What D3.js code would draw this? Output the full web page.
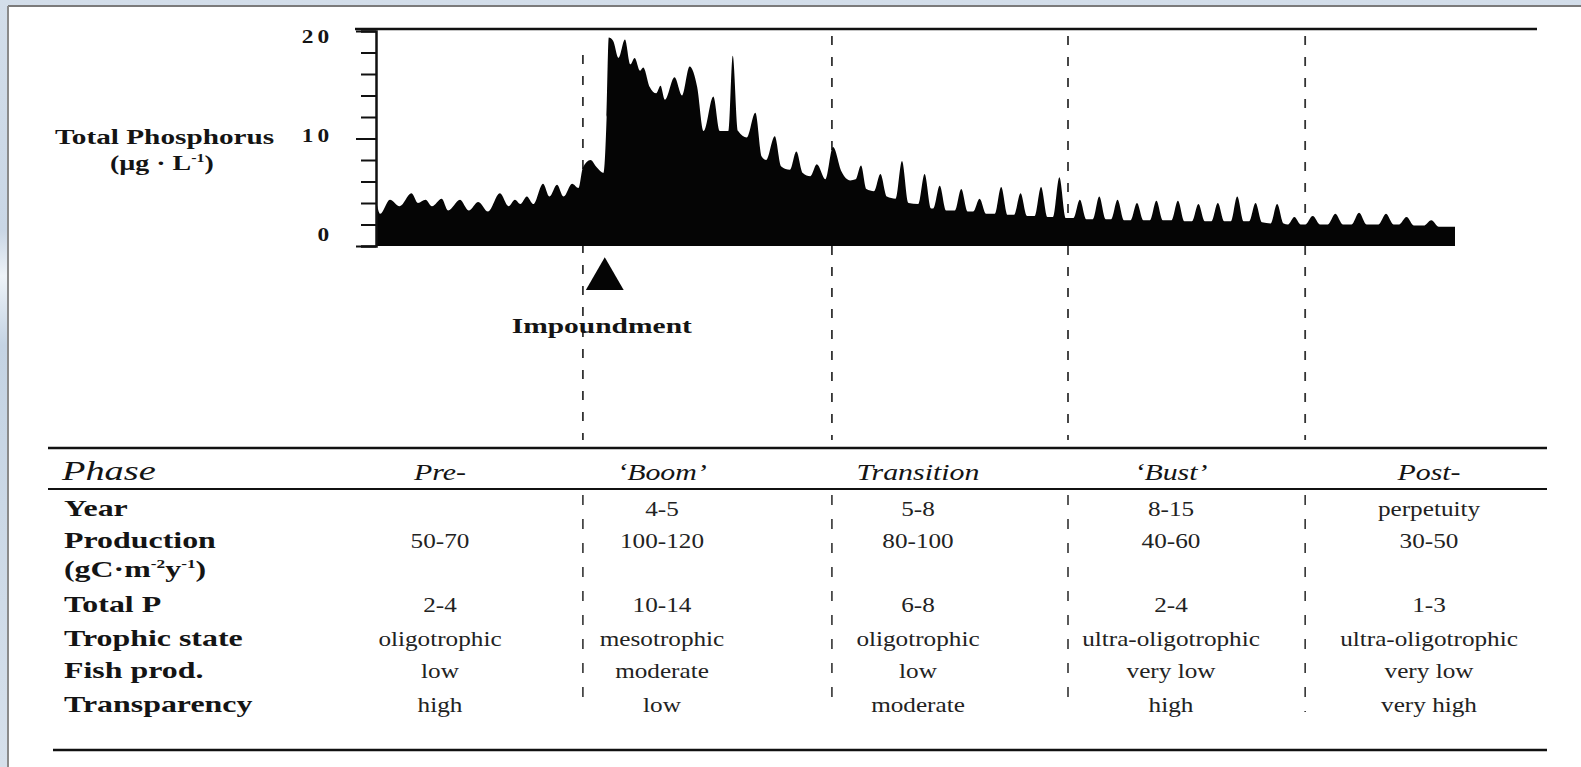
<!DOCTYPE html>
<html>
<head>
<meta charset="utf-8">
<script src="https://cdn.jsdelivr.net/npm/d3@7"></script>
<style>
  html, body { margin: 0; padding: 0; overflow: hidden; background: #fff; }
  svg { display: block; }
  text { font-family: "Liberation Serif", "Times New Roman", serif; fill: #141414; }
</style>
</head>
<body>
<svg id="chart"></svg>
<script>
// total phosphorus trace (time index 0-100, µg/L)
const tpTime = [0, 0.3, 1.2, 2.1, 3.2, 3.8, 4.5, 5.1, 6.0, 6.6, 7.7, 8.5, 9.4, 10.3, 11.4, 12.2, 12.8, 13.3, 13.9, 14.5,
  15.4, 16.0, 16.7, 17.3, 18.1, 18.7, 19.1, 19.8, 20.4, 21.0, 21.3, 21.5, 21.9, 22.4, 23.0, 23.5, 23.9, 24.4, 24.7, 25.3,
  25.9, 26.3, 26.7, 27.6, 28.3, 29.0, 29.7, 30.3, 31.2, 31.8, 32.6, 33.0, 33.5, 34.3, 35.1, 35.7, 36.1, 36.9, 37.5, 38.3,
  38.9, 39.5, 40.2, 40.8, 41.6, 42.3, 43.1, 43.9,
  44.4, 44.9, 45.4, 46.1, 46.7, 47.3, 48.1, 48.7, 49.3, 50.2, 50.8, 51.4, 51.6, 52.2, 52.8, 53.6, 54.2, 54.8,
  55.3, 55.9, 56.5, 57.3, 57.9, 58.5, 59.1, 59.7, 60.3, 61.0, 61.6, 62.2, 62.7, 63.3, 63.9, 64.6, 65.2, 65.8,
  66.4, 67.0, 67.6, 68.1, 68.7, 69.3, 69.9, 70.5, 71.1, 71.7, 72.3, 72.9, 73.7, 74.3, 74.9, 75.6, 76.2, 76.8,
  77.4, 78.0, 78.6, 79.2, 79.8, 80.4, 80.9, 81.5, 82.1, 82.9, 83.5, 84.1, 84.5, 85.1, 85.7, 86.1, 86.8, 87.5,
  88.2, 88.9, 89.6, 90.4, 91.1, 91.8, 92.9, 93.6, 94.3, 94.8, 95.5, 96.2, 97.1, 97.8, 98.5, 100];
const tpValue = [3.8, 3.0, 4.3, 3.7, 4.9, 4.0, 4.3, 3.7, 4.4, 3.3, 4.3, 3.3, 4.1, 3.2, 4.9, 3.7, 4.3, 3.9, 4.6, 3.9,
  5.8, 4.6, 5.7, 4.6, 5.8, 5.4, 7.3, 8.0, 7.3, 6.8, 12.0, 19.4, 19.1, 17.5, 19.2, 16.9, 17.5, 16.3, 16.6, 14.8,
  14.2, 14.9, 13.6, 15.7, 14.0, 16.7, 14.8, 10.7, 13.9, 10.7, 10.7, 17.7, 10.7, 10.1, 12.4, 8.3, 8.0, 10.2, 7.4, 7.1,
  8.8, 6.8, 6.5, 7.6, 6.2, 9.2, 6.9, 6.1,
  6.2, 7.5, 5.3, 5.1, 6.7, 4.6, 4.4, 7.9, 4.0, 3.9, 6.7, 3.5, 3.5, 5.6, 3.3, 3.3, 5.3, 3.2,
  3.2, 4.4, 3.0, 3.0, 5.5, 2.9, 2.9, 4.9, 2.8, 2.8, 5.5, 2.7, 2.7, 6.4, 2.6, 2.6, 4.3, 2.5,
  2.5, 4.6, 2.5, 2.5, 4.3, 2.4, 2.4, 4.0, 2.4, 2.4, 4.2, 2.4, 2.4, 4.2, 2.3, 2.3, 3.9, 2.3,
  2.3, 4.0, 2.3, 2.3, 4.6, 2.3, 2.3, 4.0, 2.2, 2.1, 3.9, 2.1, 2.0, 2.7, 2.0, 2.0, 2.8, 2.0,
  2.0, 3.0, 2.0, 2.0, 3.1, 2.0, 2.0, 3.0, 2.0, 2.0, 2.7, 1.9, 1.9, 2.4, 1.8, 1.8];

const yTickValues = [0, 2, 4, 6, 8, 10, 12, 14, 16, 18, 20];
const yLabelValues = [0, 10, 20];
const phaseBounds = [19.1, 42.2, 64.1, 86.1];
const impoundmentAt = 21.5;

// table
const phaseNames = ["Pre-", "\u2018Boom\u2019", "Transition", "\u2018Bust\u2019", "Post-"];
const rowNames = ["Year", "Production", "(gC\u00b7m", "Total P", "Trophic state", "Fish prod.", "Transparency"];
const yearRow = ["", "4-5", "5-8", "8-15", "perpetuity"];
const productionRow = ["50-70", "100-120", "80-100", "40-60", "30-50"];
const unitRow = ["", "", "", "", ""];
const totalPRow = ["2-4", "10-14", "6-8", "2-4", "1-3"];
const trophicRow = ["oligotrophic", "mesotrophic", "oligotrophic", "ultra-oligotrophic", "ultra-oligotrophic"];
const fishRow = ["low", "moderate", "low", "very low", "very low"];
const transparencyRow = ["high", "low", "moderate", "high", "very high"];
const tableRows = [yearRow, productionRow, unitRow, totalPRow, trophicRow, fishRow, transparencyRow];

const W = 1581, H = 767;
const svg = d3.select("#chart").attr("width", W).attr("height", H);

// the scan is wider than a normal serif, so text is stretched sideways
function stretched(x, y, str, size, sx) {
    return svg.append("text")
        .attr("transform", `translate(${x},${y}) scale(${sx},1)`)
        .attr("font-size", size)
        .text(str);
}

// page frame (scan pasted on a blue slide)
const grad = svg.append("defs").append("linearGradient")
    .attr("id", "side").attr("x1", 0).attr("y1", 0).attr("x2", 0).attr("y2", 1);
grad.append("stop").attr("offset", 0).attr("stop-color", "#d3deea");
grad.append("stop").attr("offset", 0.3).attr("stop-color", "#c9d6e5");
grad.append("stop").attr("offset", 0.36).attr("stop-color", "#eef3f8");
grad.append("stop").attr("offset", 0.45).attr("stop-color", "#c4d3e3");
grad.append("stop").attr("offset", 1).attr("stop-color", "#d6e0eb");
svg.append("rect").attr("width", W).attr("height", H).attr("fill", "url(#side)");
svg.append("rect").attr("x", 9).attr("y", 7).attr("width", W - 9).attr("height", H - 7).attr("fill", "#fff");
svg.append("line").attr("x1", 8).attr("x2", W).attr("y1", 6).attr("y2", 6)
    .attr("stroke", "#7b7b7b").attr("stroke-width", 2);
svg.append("line").attr("x1", 8).attr("x2", 8).attr("y1", 6).attr("y2", H)
    .attr("stroke", "#8a8a8a").attr("stroke-width", 2);

const x = d3.scaleLinear().domain([0, 100]).range([377, 1455]);
const y = d3.scaleLinear().domain([0, 20]).range([246, 31]);

// phase separators
const dashTop = [55, 36, 36, 36];
phaseBounds.forEach((b, i) => {
    svg.append("line").attr("x1", x(b)).attr("x2", x(b)).attr("y1", dashTop[i]).attr("y2", 440)
        .attr("stroke", "#333").attr("stroke-width", 1.8).attr("stroke-dasharray", "9,12");
    svg.append("line").attr("x1", x(b)).attr("x2", x(b)).attr("y1", 495).attr("y2", i == 3 ? 712 : 700)
        .attr("stroke", "#333").attr("stroke-width", 1.6).attr("stroke-dasharray", "10,14");
});

// TP area
const series = tpTime.map((t, i) => ({t: t, v: tpValue[i]}));
const area = d3.area()
    .x(d => x(d.t))
    .y0(y(0))
    .y1(d => y(d.v))
    .curve(d3.curveMonotoneX);
svg.append("path").datum(series).attr("d", area).attr("fill", "#050505");

// frame line on top
svg.append("line").attr("x1", 355).attr("x2", 1537).attr("y1", 29).attr("y2", 29)
    .attr("stroke", "#111").attr("stroke-width", 2.5);

// y axis
const yAxis = svg.append("g").attr("transform", `translate(${x(0) - 1},0)`)
    .call(d3.axisLeft(y).tickValues(yTickValues).tickSize(15).tickFormat(""));
yAxis.select(".domain").attr("stroke", "#111").attr("stroke-width", 2.5);
yAxis.selectAll(".tick line").attr("stroke", "#111").attr("stroke-width", 2)
    .attr("x2", d => yLabelValues.includes(d) ? -20 : -15);

yLabelValues.forEach(d => {
    stretched(333, y(d) + (d == 0 ? -5 : d == 10 ? 3 : 12), d, 18, 1.3)
        .attr("text-anchor", "end").attr("font-weight", "bold").attr("letter-spacing", 3);
});

stretched(55, 144, "Total Phosphorus", 22, 1.33).attr("font-weight", "bold");
const unit = stretched(110, 170, "", 21, 1.33).attr("font-weight", "bold");
unit.append("tspan").text("(\u00b5g \u00b7 L");
unit.append("tspan").attr("dy", -8).attr("font-size", 12).text("-1");
unit.append("tspan").attr("dy", 8).text(")");

// impoundment marker
svg.append("path")
    .attr("d", d3.symbol().type(d3.symbolTriangle).size(620))
    .attr("transform", `translate(${x(impoundmentAt) - 4},279)`)
    .attr("fill", "#050505");
stretched(x(impoundmentAt) - 7, 333, "Impoundment", 22, 1.34)
    .attr("text-anchor", "middle").attr("font-weight", "bold");

// table
const colX = [440, 662, 918, 1171, 1429];
const rowY = [516, 548, 577, 612, 646, 678, 712];

svg.append("line").attr("x1", 48).attr("x2", 1547).attr("y1", 448).attr("y2", 448)
    .attr("stroke", "#111").attr("stroke-width", 2.5);
svg.append("line").attr("x1", 48).attr("x2", 1547).attr("y1", 489).attr("y2", 489)
    .attr("stroke", "#111").attr("stroke-width", 2);
svg.append("line").attr("x1", 53).attr("x2", 1547).attr("y1", 750).attr("y2", 750)
    .attr("stroke", "#111").attr("stroke-width", 2.5);

stretched(62, 480, "Phase", 27, 1.42).attr("font-style", "italic");
phaseNames.forEach((d, i) => {
    stretched(colX[i], 480, d, 23, 1.3).attr("text-anchor", "middle").attr("font-style", "italic");
});

rowNames.forEach((name, r) => {
    const t = stretched(64, rowY[r], name, 24, 1.33).attr("font-weight", "bold");
    if (r == 2) {
        t.append("tspan").attr("dy", -9).attr("font-size", 13).text("-2");
        t.append("tspan").attr("dy", 9).text("y");
        t.append("tspan").attr("dy", -9).attr("font-size", 13).text("-1");
        t.append("tspan").attr("dy", 9).text(")");
    }
    tableRows[r].forEach((v, i) => {
        stretched(colX[i], rowY[r], v, 21, 1.2).attr("text-anchor", "middle").style("fill", "#222");
    });
});
</script>
</body>
</html>
